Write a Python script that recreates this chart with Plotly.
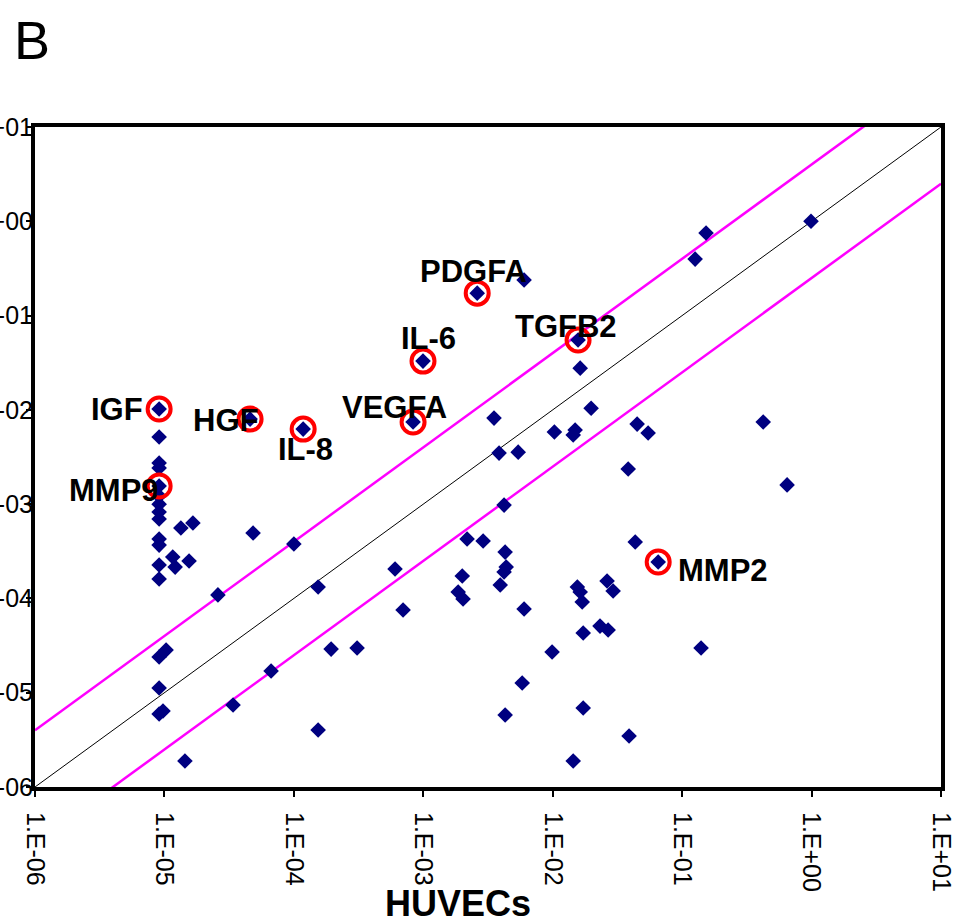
import numpy as np
import plotly.graph_objects as go

# ---- data (expression values) ----
huvec = [9.1e-6, 9.1e-6, 9.1e-6, 9.1e-6, 9.1e-6, 9.1e-6, 9.1e-6, 9.1e-6, 9.1e-6, 9.1e-6,
         9.1e-6, 9.1e-6, 9.1e-6, 9.1e-6, 9.1e-6, 9.1e-6, 1.03e-5, 9.75e-6, 1.44e-5, 1.34e-5,
         1.66e-5, 1.16e-5, 1.21e-5, 1.55e-5, 4.59e-5, 1.18e-4, 4.84e-5, 1.0e-4, 2.59e-5, 1.54e-4,
         1.94e-4, 6.67e-5, 3.39e-5, 1.54e-4, 3.08e-4, 8.34e-4, 9.95e-4, 2.61e-3, 6.01e-3, 1.57e-2,
         1.63e-2, 1.98e-2, 3.52e-3, 3.85e-3, 5.41e-3, 1.03e-2, 4.21e-3, 2.18e-3, 2.90e-3, 4.29e-3,
         2.0e-3, 4.37e-3, 4.21e-3, 3.93e-3, 1.86e-3, 2.03e-3, 6.05e-4, 6.98e-4, 6.01e-3, 9.89e-3,
         5.81e-3, 4.29e-3, 1.49e-2, 1.44e-2, 4.49e-2, 5.46e-2, 0.423, 3.83e-2, 0.647, 4.34e-2,
         6.53e-2, 1.55e-2, 1.63e-2, 1.69e-2, 2.63e-2, 2.93e-2, 2.32e-2, 2.68e-2, 1.72e-2, 0.140,
         1.72e-2, 3.89e-2, 1.44e-2, 0.153, 0.126, 0.99]
other = [1.02e-2, 5.15e-3, 2.73e-3, 2.42e-3, 1.56e-3, 1.22e-3, 1.0e-3, 8.24e-4, 6.95e-4, 4.27e-4,
         3.68e-4, 2.26e-4, 1.61e-4, 2.39e-5, 1.12e-5, 5.94e-6, 2.84e-5, 6.4e-6, 1.89e-6, 5.58e-4,
         6.31e-4, 2.75e-4, 2.15e-4, 2.49e-4, 7.98e-3, 6.25e-3, 4.94e-4, 3.78e-4, 1.09e-4, 1.32e-4,
         2.90e-5, 1.70e-5, 7.41e-6, 4.02e-6, 2.98e-5, 7.43e-3, 3.29e-2, 0.173, 0.238, 5.5e-2,
         2.77e-2, 1.04e-2, 8.18e-3, 3.48e-3, 3.56e-3, 5.82e-3, 9.77e-4, 4.27e-4, 4.06e-4, 3.10e-4,
         1.73e-4, 2.15e-4, 1.91e-4, 1.39e-4, 1.17e-4, 9.86e-5, 2.05e-4, 7.53e-5, 7.73e-5, 2.70e-5,
         1.27e-5, 5.81e-6, 6.11e-3, 5.41e-3, 7.06e-3, 5.68e-3, 7.43e-3, 2.36e-3, 1.60e-3, 3.96e-4,
         2.43e-4, 1.32e-4, 1.17e-4, 9.16e-5, 1.53e-4, 1.20e-4, 5.09e-5, 4.62e-5, 4.30e-5, 2.98e-5,
         6.89e-6, 3.47e-6, 1.89e-6, 0.750, 0.397, 1.0]

genes = ["IGF", "HGF", "IL-8", "MMP9", "PDGFA", "IL-6", "VEGFA", "TGFB2", "MMP2"]
gene_huvec = [9.1e-6, 4.59e-5, 1.18e-4, 9.1e-6, 2.61e-3, 9.95e-4, 8.34e-4, 1.57e-2, 6.53e-2]
gene_other = [1.02e-2, 7.98e-3, 6.25e-3, 1.56e-3, 0.173, 3.29e-2, 7.43e-3, 5.5e-2, 2.43e-4]

fold = 4.0
tick_vals = [1e-6, 1e-5, 1e-4, 1e-3, 1e-2, 1e-1, 1e0, 1e1]
tick_text = ["1.E-06", "1.E-05", "1.E-04", "1.E-03", "1.E-02", "1.E-01", "1.E+00", "1.E+01"]

# ---- label placement (pixel offsets from each highlighted point) ----
label_style = {
    "IGF":   dict(xanchor="right", xshift=-14, yshift=0),
    "HGF":   dict(xanchor="right", xshift=10, yshift=-1),
    "IL-8":  dict(xanchor="center", xshift=2, yshift=-20),
    "MMP9":  dict(xanchor="right", xshift=2, yshift=-5),
    "PDGFA": dict(xanchor="center", xshift=-4, yshift=22),
    "IL-6":  dict(xanchor="center", xshift=5, yshift=23),
    "VEGFA": dict(xanchor="center", xshift=-19, yshift=15),
    "TGFB2": dict(xanchor="center", xshift=-12, yshift=14),
    "MMP2":  dict(xanchor="left", xshift=18, yshift=-8),
}

FONT = "Liberation Sans, Arial, sans-serif"

fig = go.Figure()

line_x = np.array([tick_vals[0], tick_vals[-1]])
fig.add_trace(go.Scatter(x=line_x, y=line_x, mode="lines",
                         line=dict(color="black", width=1), hoverinfo="skip"))
fig.add_trace(go.Scatter(x=line_x, y=line_x * fold, mode="lines",
                         line=dict(color="#FF00FF", width=2.5), hoverinfo="skip"))
fig.add_trace(go.Scatter(x=line_x, y=line_x / fold, mode="lines",
                         line=dict(color="#FF00FF", width=2.5), hoverinfo="skip"))

fig.add_trace(go.Scatter(x=huvec, y=other, mode="markers",
                         marker=dict(symbol="diamond", size=12, color="#000080",
                                     line=dict(width=0)),
                         cliponaxis=False))

fig.add_trace(go.Scatter(x=gene_huvec, y=gene_other, mode="markers",
                         marker=dict(symbol="circle-open", size=23,
                                     line=dict(width=4, color="#FF0000"), color="#FF0000"),
                         cliponaxis=False))

for g, gx, gy in zip(genes, gene_huvec, gene_other):
    st = label_style[g]
    fig.add_annotation(x=np.log10(gx), y=np.log10(gy), xref="x", yref="y",
                       text="<b>%s</b>" % g, showarrow=False,
                       xanchor=st["xanchor"], yanchor="middle",
                       xshift=st["xshift"], yshift=st["yshift"],
                       font=dict(family=FONT, size=31, color="black"))

axis_common = dict(type="log", range=[-6, 1], showline=True, linewidth=4,
                   linecolor="black", mirror=True, showgrid=False, zeroline=False,
                   ticks="outside", tickwidth=2, tickcolor="black", automargin=False,
                   tickvals=tick_vals, ticktext=tick_text,
                   tickfont=dict(family=FONT, size=25, color="black"))

fig.update_layout(
    width=965, height=920,
    margin=dict(l=35, r=24, t=127, b=133),
    paper_bgcolor="white", plot_bgcolor="white",
    showlegend=False,
    xaxis=dict(axis_common, ticklen=6, tickangle=90, ticklabelstandoff=10),
    yaxis=dict(axis_common, ticklen=5, ticklabelstandoff=-12),
)

fig.add_annotation(x=(458 - 35) / 906, y=(787 - 903) / 660, xref="paper", yref="paper",
                   text="<b>HUVECs</b>", showarrow=False, xanchor="center", yanchor="middle",
                   font=dict(family=FONT, size=36, color="black"))
fig.add_annotation(x=-35 / 906 + 12 / 906, y=(787 - 40) / 660, xref="paper", yref="paper",
                   text="B", showarrow=False, xanchor="left", yanchor="middle",
                   font=dict(family=FONT, size=54, color="black"))

fig.write_html("out.html")
